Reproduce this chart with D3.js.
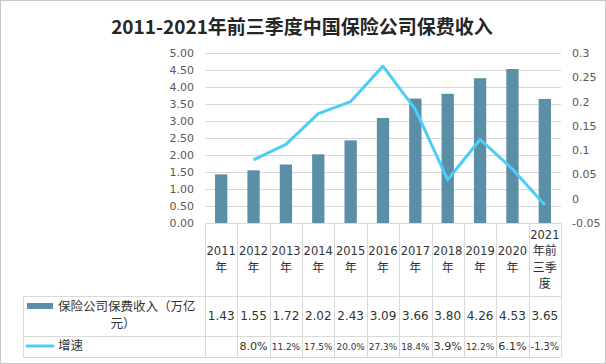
<!DOCTYPE html>
<html><head><meta charset="utf-8">
<script src="https://cdn.jsdelivr.net/npm/d3@7"></script>
<style>
html,body{margin:0;padding:0;background:#fff;}
svg{display:block;}
</style></head>
<body>
<script>
const categories = ["2011年","2012年","2013年","2014年","2015年","2016年","2017年","2018年","2019年","2020年","2021年前三季度"];
const categoryLines = [["2011","年"],["2012","年"],["2013","年"],["2014","年"],["2015","年"],["2016","年"],["2017","年"],["2018","年"],["2019","年"],["2020","年"],["2021","年前","三季","度"]];
const premium = [1.43,1.55,1.72,2.02,2.43,3.09,3.66,3.80,4.26,4.53,3.65];
const growth = [null,0.080,0.112,0.175,0.200,0.273,0.184,0.039,0.122,0.061,-0.013];
const premiumLabels = ["1.43","1.55","1.72","2.02","2.43","3.09","3.66","3.80","4.26","4.53","3.65"];
const growthLabels = ["","8.0%","11.2%","17.5%","20.0%","27.3%","18.4%","3.9%","12.2%","6.1%","-1.3%"];
const leftTicks = [0,0.5,1,1.5,2,2.5,3,3.5,4,4.5,5];
const rightTicks = [-0.05,0,0.05,0.1,0.15,0.2,0.25,0.3];
const title = "2011-2021年前三季度中国保险公司保费收入";
const seriesNames = ["保险公司保费收入（万亿元）","增速"];

const W = 606, H = 364;
const barColor = "#5b8fa7", lineColor = "#4dcdf5", gridColor = "#d9d9d9", textColor = "#595959";
const font = "'DejaVu Sans','Noto Sans CJK SC',sans-serif";

const svg = d3.select("body").append("svg").attr("width", W).attr("height", H);
svg.append("rect").attr("x",0.5).attr("y",0.5).attr("width",W-1).attr("height",H-1)
  .attr("fill","#fff").attr("stroke","#c8c8c8");

svg.append("text").attr("x", 302).attr("y", 34).attr("text-anchor","middle")
  .attr("font-family","'Noto Sans CJK SC',sans-serif").attr("font-weight","bold")
  .attr("font-size", 19).attr("fill","#262626").text(title);

const x0 = 205, x1 = 561, yTop = 53, yBot = 223;
const x = d3.scaleBand().domain(categories).range([x0, x1]).padding(0);
const yL = d3.scaleLinear().domain([0,5]).range([yBot, yTop]);
const yR = d3.scaleLinear().domain([-0.05,0.3]).range([yBot, yTop]);

// gridlines
svg.append("g").selectAll("line").data(leftTicks).join("line")
  .attr("x1", x0).attr("x2", x1)
  .attr("y1", d => Math.round(yL(d))+0.5).attr("y2", d => Math.round(yL(d))+0.5)
  .attr("stroke", gridColor).attr("stroke-width",1);

// axes
const gL = svg.append("g").attr("transform", `translate(${x0-2},0)`)
  .call(d3.axisLeft(yL).tickValues(leftTicks).tickFormat(d3.format(".2f")).tickSize(0).tickPadding(9));
const gR = svg.append("g").attr("transform", `translate(${x1+2},0)`)
  .call(d3.axisRight(yR).tickValues(rightTicks).tickFormat(d => String(+d.toFixed(2))).tickSize(0).tickPadding(9));
[gL,gR].forEach(g => {
  g.select(".domain").remove();
  g.selectAll("text").attr("font-family", font).attr("font-size", 11).attr("fill", textColor);
});

// bars
const bw = x.bandwidth()*0.38;
svg.append("g").selectAll("rect").data(premium).join("rect")
  .attr("x", (d,i) => x(categories[i]) + x.bandwidth()/2 - bw/2)
  .attr("width", bw)
  .attr("y", d => yL(d)).attr("height", d => yBot - yL(d))
  .attr("fill", barColor);

// line
const pts = growth.map((g,i) => ({g, c: categories[i]})).filter(p => p.g !== null);
svg.append("path").datum(pts)
  .attr("d", d3.line().x(p => x(p.c) + x.bandwidth()/2).y(p => yR(p.g)))
  .attr("fill","none").attr("stroke", lineColor).attr("stroke-width", 3).attr("stroke-linejoin","round");

// data table
const tL = 23, rowH = 296, row2 = 336, tBot = 357;
const tg = svg.append("g").attr("stroke", gridColor).attr("stroke-width",1).attr("shape-rendering","crispEdges");
tg.append("line").attr("x1", x0).attr("x2", x1).attr("y1", yBot+0.5).attr("y2", yBot+0.5);
[rowH, row2, tBot].forEach(yy => tg.append("line").attr("x1", tL).attr("x2", x1).attr("y1", yy+0.5).attr("y2", yy+0.5));
tg.append("line").attr("x1", tL+0.5).attr("x2", tL+0.5).attr("y1", rowH).attr("y2", tBot);
categories.concat([null]).forEach((c,i) => {
  const xx = Math.round(c ? x(c) : x1) + 0.5;
  tg.append("line").attr("x1", xx).attr("x2", xx).attr("y1", yBot).attr("y2", tBot);
});

const txt = svg.append("g").attr("font-family", font).attr("fill", "#333").attr("text-anchor","middle");
categoryLines.forEach((lines,i) => {
  const cx = x(categories[i]) + x.bandwidth()/2;
  const lh = 16.5, cy = (yBot + rowH)/2;
  lines.forEach((s,j) => {
    const t = txt.append("text").attr("x", cx).attr("y", cy + (j - (lines.length-1)/2)*lh)
      .attr("dy","0.35em").attr("font-size", 12).text(s);
    const w = t.node().getComputedTextLength();
    if (w > x.bandwidth() - 3) t.attr("font-size", 12 * (x.bandwidth() - 3) / w);
  });
  txt.append("text").attr("x", cx).attr("y", (rowH+row2)/2).attr("dy","0.35em").attr("font-size",12).text(premiumLabels[i]);
  const gt = txt.append("text").attr("x", cx).attr("y", (row2+tBot)/2).attr("dy","0.35em").attr("font-size",12).text(growthLabels[i]);
  const maxW = x.bandwidth() - 4;
  if (growthLabels[i]) {
    const w = gt.node().getComputedTextLength();
    if (w > maxW) gt.attr("font-size", 12 * maxW / w);
  }
});

// legend keys in table
svg.append("rect").attr("x", 27).attr("y", 303).attr("width", 26).attr("height", 6).attr("fill", barColor);
svg.append("line").attr("x1", 27).attr("x2", 53).attr("y1", 346).attr("y2", 346)
  .attr("stroke", lineColor).attr("stroke-width", 3).attr("stroke-linecap","round");
const lg = svg.append("g").attr("font-family", font).attr("fill","#333").attr("font-size", 12.5);
lg.append("text").attr("x", 58).attr("y", 307).attr("dy","0.35em").text(seriesNames[0].slice(0, 11));
lg.append("text").attr("x", 123).attr("y", 324).attr("dy","0.35em").attr("text-anchor","middle").text(seriesNames[0].slice(11));
lg.append("text").attr("x", 58).attr("y", 346).attr("dy","0.35em").text(seriesNames[1]);
</script>
</body></html>
